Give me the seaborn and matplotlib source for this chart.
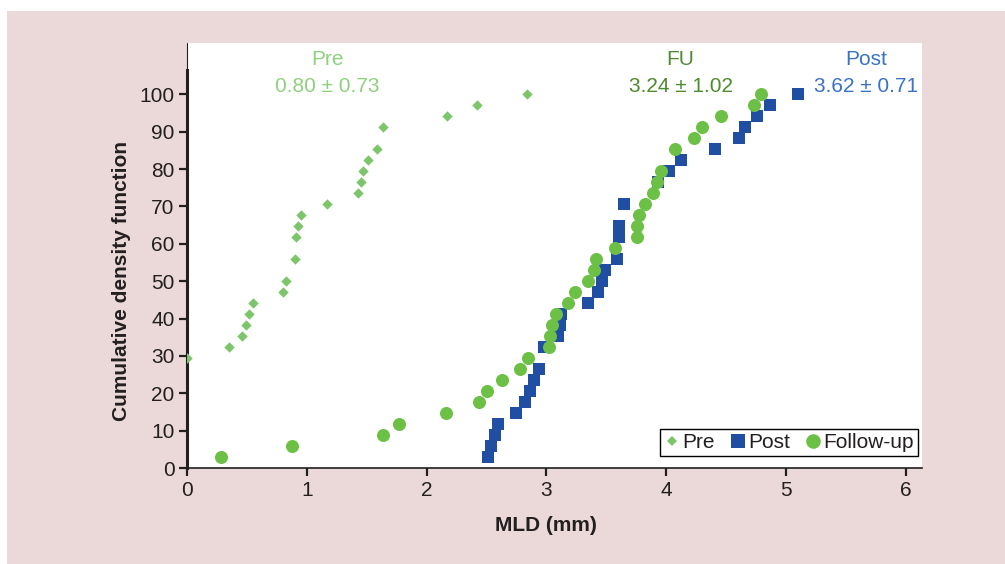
import matplotlib
matplotlib.use("Agg")
import matplotlib.pyplot as plt
import seaborn as sns
import pandas as pd
from matplotlib.lines import Line2D
from matplotlib.patches import Rectangle

# ---------------- data ----------------
pre_mld = [0.00, 0.35, 0.46, 0.49, 0.52, 0.55, 0.80, 0.83, 0.90, 0.91, 0.93,
           0.95, 1.17, 1.43, 1.45, 1.47, 1.51, 1.59, 1.64, 2.17, 2.42, 2.84]
pre_cdf = [29.4, 32.4, 35.3, 38.2, 41.2, 44.1, 47.1, 50.0, 55.9, 61.8, 64.7,
           67.6, 70.6, 73.5, 76.5, 79.4, 82.4, 85.3, 91.2, 94.1, 97.1, 100.0]

post_mld = [2.51, 2.54, 2.57, 2.60, 2.75, 2.82, 2.86, 2.90, 2.94, 2.98, 3.10,
            3.11, 3.12, 3.35, 3.43, 3.46, 3.49, 3.59, 3.61, 3.61, 3.65, 3.93,
            4.02, 4.12, 4.41, 4.61, 4.66, 4.76, 4.87, 5.10]
post_cdf = [2.9, 5.9, 8.8, 11.8, 14.7, 17.6, 20.6, 23.5, 26.5, 32.4, 35.3,
            38.2, 41.2, 44.1, 47.1, 50.0, 52.9, 55.9, 61.8, 64.7, 70.6, 76.5,
            79.4, 82.4, 85.3, 88.2, 91.2, 94.1, 97.1, 100.0]

fu_mld = [0.28, 0.88, 1.64, 1.77, 2.16, 2.44, 2.50, 2.63, 2.78, 2.85, 3.02,
          3.03, 3.05, 3.08, 3.18, 3.24, 3.35, 3.40, 3.41, 3.57, 3.76, 3.76,
          3.77, 3.82, 3.89, 3.92, 3.96, 4.07, 4.23, 4.30, 4.46, 4.73, 4.79]
fu_cdf = [2.9, 5.9, 8.8, 11.8, 14.7, 17.6, 20.6, 23.5, 26.5, 29.4, 32.4,
          35.3, 38.2, 41.2, 44.1, 47.1, 50.0, 52.9, 55.9, 58.8, 61.8, 64.7,
          67.6, 70.6, 73.5, 76.5, 79.4, 85.3, 88.2, 91.2, 94.1, 97.1, 100.0]

legend_labels = ["Pre", "Post", "Follow-up"]
annot_titles = ["Pre", "FU", "Post"]
annot_stats = ["0.80 \u00b1 0.73", "3.24 \u00b1 1.02", "3.62 \u00b1 0.71"]
annot_x = [1.17, 4.12, 5.67]

x_ticks = [0, 1, 2, 3, 4, 5, 6]
y_ticks = [0, 10, 20, 30, 40, 50, 60, 70, 80, 90, 100]

# ---------------- style ----------------
PINK = "#ead9d8"
PRE_C = "#7cc56a"
POST_C = "#1f4ea3"
FU_C = "#6cc046"
PRE_T = "#8fd07e"
FU_T = "#4e8a2e"
POST_T = "#3a72c4"
INK = "#231f20"

sns.set_theme(style="white")
plt.rcParams["font.family"] = ["Liberation Sans", "DejaVu Sans"]

W, H = 1005, 564
fig = plt.figure(figsize=(W / 100, H / 100), dpi=100, facecolor="white")
bg = Rectangle((7 / W, 0), 1 - 7 / W, (H - 11) / H,
               transform=fig.transFigure, facecolor=PINK,
               edgecolor="none", zorder=-10)
fig.patches.append(bg)

ax = fig.add_axes([187 / W, 96 / H, 735 / W, 425 / H])
ax.set_zorder(2)
ax.set_facecolor("white")

df_pre = pd.DataFrame({"MLD": pre_mld, "CDF": pre_cdf})
df_post = pd.DataFrame({"MLD": post_mld, "CDF": post_cdf})
df_fu = pd.DataFrame({"MLD": fu_mld, "CDF": fu_cdf})

sns.scatterplot(data=df_pre, x="MLD", y="CDF", marker="D", s=28, color=PRE_C,
                linewidth=0, ax=ax, zorder=3, legend=False)
sns.scatterplot(data=df_post, x="MLD", y="CDF", marker="s", s=78, color=POST_C,
                linewidth=0, ax=ax, zorder=3, legend=False)
sns.scatterplot(data=df_fu, x="MLD", y="CDF", marker="o", s=88, color=FU_C,
                linewidth=0, ax=ax, zorder=4, legend=False)

ax.set_xlim(0, 735 / 119.8)
ax.set_ylim(0, 425 / 3.737)
ax.set_xticks(x_ticks)
ax.set_yticks(y_ticks)

for s in ["top", "right"]:
    ax.spines[s].set_visible(False)
ax.spines["left"].set_color(INK)
ax.spines["left"].set_linewidth(2.2)
ax.spines["left"].set_bounds(0, 106.5)
ax.spines["bottom"].set_color(INK)
ax.spines["bottom"].set_linewidth(1.2)
ax.axvline(0, ymin=106.5 / (425 / 3.737), ymax=1, color=INK, lw=0.8,
           zorder=5, clip_on=False)

ax.tick_params(axis="both", which="major", bottom=True, left=True,
               direction="out", length=6, width=1.6, color=INK,
               labelcolor=INK, labelsize=15, pad=3)

ax.set_xlabel("MLD (mm)", fontsize=15, fontweight="bold", color=INK)
ax.set_ylabel("Cumulative density function", fontsize=15, fontweight="bold",
              color=INK)
ax.xaxis.set_label_coords(0.488, -0.112)
ax.yaxis.set_label_coords(-0.076, 0.441)

# annotations
tcols = [PRE_T, FU_T, POST_T]
for xt, t1, t2, c in zip(annot_x, annot_titles, annot_stats, tcols):
    ax.text(xt, 109.2, t1, ha="center", va="center", fontsize=15, color=c)
    ax.text(xt, 102.2, t2, ha="center", va="center", fontsize=15, color=c)

# legend
handles = [
    Line2D([], [], marker="D", ls="", color=PRE_C, markersize=5.5, mew=0),
    Line2D([], [], marker="s", ls="", color=POST_C, markersize=10, mew=0),
    Line2D([], [], marker="o", ls="", color=FU_C, markersize=10.5, mew=0),
]
leg = ax.legend(handles, legend_labels, loc="lower right",
                bbox_to_anchor=(0.9946, 0.028), ncol=3, frameon=True,
                fancybox=False, edgecolor="black", facecolor="white",
                framealpha=1, fontsize=15, handlelength=0.7,
                handletextpad=0.15, columnspacing=0.75, borderpad=0.2,
                borderaxespad=0.0)
leg.get_frame().set_linewidth(1.0)
for t in leg.get_texts():
    t.set_color(INK)

fig.savefig("out.png", dpi=100, facecolor=fig.get_facecolor())
